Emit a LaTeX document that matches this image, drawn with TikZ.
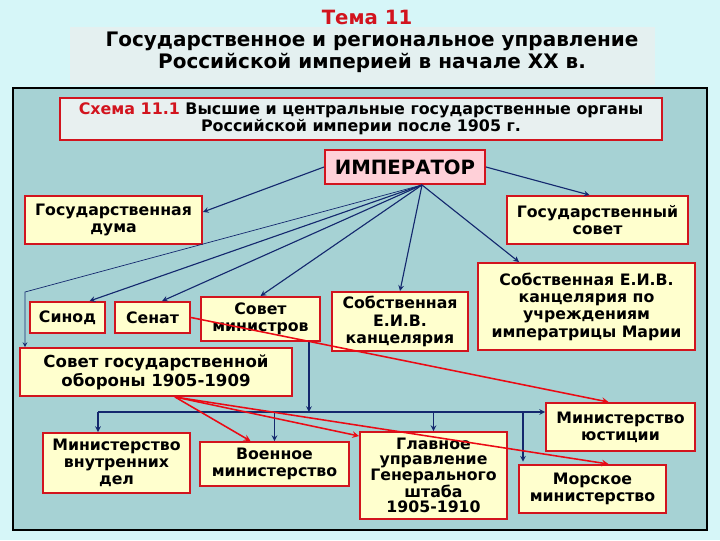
\documentclass[tikz,border=0pt]{standalone}
\usepackage{fontspec}
\setmainfont{DejaVu Sans}
\usepackage{tikz}

\definecolor{pagebg}{RGB}{214,246,248}
\definecolor{titlebg}{RGB}{228,240,240}
\definecolor{panelbg}{RGB}{166,210,212}
\definecolor{capbg}{RGB}{232,240,240}
\definecolor{boxfill}{RGB}{255,255,206}
\definecolor{empfill}{RGB}{255,208,216}
\definecolor{boxred}{RGB}{210,20,30}
\definecolor{arrblue}{RGB}{20,40,110}
\definecolor{arrred}{RGB}{235,10,20}

\tikzset{
	orgbox/.style={draw=boxred, line width=1.4pt, fill=boxfill, inner sep=0pt, align=center,
		font=\bfseries\fontsize{11.2}{12.3}\selectfont},
	boxsize/.style 2 args={minimum width=#1*0.025cm, minimum height=#2*0.025cm},
	bluearr/.style={-stealth, draw=arrblue, line width=0.8pt},
	redarr/.style={-stealth, draw=arrred, line width=1.1pt},
}

\begin{document}
\begin{tikzpicture}[x=0.025cm, y=-0.025cm]
		%%%%% START %%%%%
		\useasboundingbox (0,0) rectangle (720,540);
		\fill[pagebg] (0,0) rectangle (720,540);
		
		% heading
		\fill[titlebg] (70,27) rectangle (655,85);
		\node[text=boxred, font=\bfseries\fontsize{14}{16}\selectfont] (tema) at (367,17) {Тема 11};
		\node[align=center, font=\bfseries\fontsize{14.2}{15.6}\selectfont] (title) at (372,52)
			{Государственное и региональное управление\\Российской империей в начале XX в.};
		
		% panel
		\draw[line width=1.5pt, fill=panelbg] (13,88) rectangle (707,530);
		\node[orgbox, boxsize={602}{42}, fill=capbg, font=\bfseries\fontsize{11.3}{12.2}\selectfont] (caption) at (361,119)
			{\textcolor{boxred}{Схема 11.1} Высшие и центральные государственные органы\\Российской империи после 1905 г.};
		
		\node[orgbox, boxsize={160}{34}, fill=empfill, font=\bfseries\fontsize{14}{15}\selectfont] (emp) at (405,167) {ИМПЕРАТОР};
		
		\node[orgbox, boxsize={177}{48}] (duma) at (113.5,220) {Государственная\\дума};
		\node[orgbox, boxsize={181}{48}] (gsovet) at (597.5,220) {Государственный\\совет};
		
		\node[orgbox, boxsize={75}{31}] (sinod) at (67.5,317.5) {Синод};
		\node[orgbox, boxsize={75}{31}] (senat) at (152.5,317.5) {Сенат};
		\node[orgbox, boxsize={119}{44}] (sovmin) at (260.5,319) {Совет\\министров};
		\node[orgbox, boxsize={136}{59}] (kanc) at (400,321.5) {Собственная\\Е.И.В.\\канцелярия};
		\node[orgbox, boxsize={217}{87}] (maria) at (586.5,306.5) {Собственная Е.И.В.\\канцелярия по\\учреждениям\\императрицы Марии};
		
		\node[orgbox, boxsize={272}{48}, font=\bfseries\fontsize{11.8}{13.5}\selectfont] (oborona) at (156,372) {Совет государственной\\обороны 1905-1909};
		
		\node[orgbox, boxsize={147}{60}] (mvd) at (116.5,463) {Министерство\\внутренних\\дел};
		\node[orgbox, boxsize={149}{44}] (voen) at (274.5,464) {Военное\\министерство};
		\node[orgbox, boxsize={147}{87}, font=\bfseries\fontsize{11.2}{10.8}\selectfont] (genshtab) at (433.5,475.5) {Главное\\управление\\Генерального\\штаба\\1905-1910};
		\node[orgbox, boxsize={149}{48}] (yust) at (620.5,427) {Министерство\\юстиции};
		\node[orgbox, boxsize={147}{48}] (morsk) at (592.5,489) {Морское\\министерство};
		
		% emperor
		\coordinate (hub) at ([xshift=0.425cm]emp.south);
		\coordinate (bend) at (25,292);
		\draw[bluearr] (emp.west) -- ([yshift=0.2cm]duma.east);
		\draw[bluearr] (emp.east) -- ([xshift=-0.2cm]gsovet.north);
		\draw[-stealth, draw=arrblue, line width=0.5pt] (hub) -- (bend) -- (bend |- oborona.north);
		\draw[bluearr] (hub) -- ([xshift=0.55cm]sinod.north);
		\draw[bluearr] (hub) -- ([xshift=0.24cm]senat.north);
		\draw[bluearr] (hub) -- (sovmin.north);
		\draw[bluearr] (hub) -- (kanc.north);
		\draw[bluearr] (hub) -- ([xshift=1.05cm]maria.north west);
		
		% council of ministers
		\coordinate (bus) at (98,412);
		\coordinate (drop) at ([xshift=-0.3cm]sovmin.south east);
		\draw[bluearr] (drop) -- (drop |- bus);
		\draw[bluearr] (bus) -- (bus -| yust.west);
		\draw[bluearr] (bus) -- (bus |- mvd.north);
		\draw[bluearr] (voen.north |- bus) -- (voen.north);
		\draw[bluearr] (genshtab.north |- bus) -- (genshtab.north);
		\draw[bluearr] ([xshift=0.125cm]morsk.north west |- bus) -- ([xshift=0.125cm,yshift=0.06cm]morsk.north west);
		
		% red links
		\coordinate (obsrc) at ([xshift=0.475cm]oborona.south);
		\draw[redarr] (senat.east) -- ([xshift=-0.3cm]yust.north);
		\draw[redarr] (obsrc) -- ([xshift=-0.6cm]voen.north);
		\draw[redarr] (obsrc) -- ([yshift=-0.125cm]genshtab.north west);
		\draw[redarr] (obsrc) -- ([xshift=0.4cm]morsk.north);
		
		%%%%% END %%%%%
\end{tikzpicture}
\end{document}
